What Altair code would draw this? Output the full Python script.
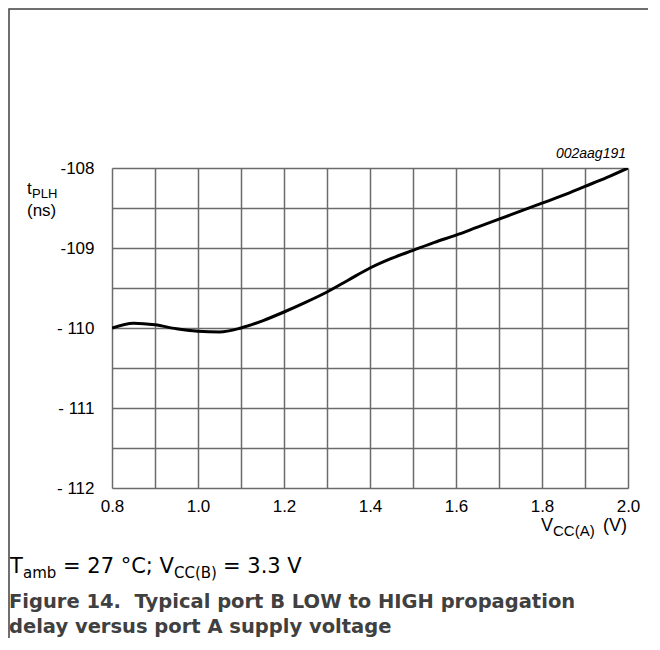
import altair as alt
import pandas as pd

# ---- data ----
vcc_a = [0.80, 0.85, 0.90, 0.95, 1.00, 1.05, 1.10, 1.15, 1.20, 1.25, 1.30, 1.35, 1.40,
         1.45, 1.50, 1.55, 1.60, 1.65, 1.70, 1.75, 1.80, 1.85, 1.90, 1.95, 2.00]
tplh = [-110.00, -109.94, -109.96, -110.01, -110.04, -110.05, -110.00, -109.91, -109.80,
        -109.68, -109.55, -109.40, -109.25, -109.13, -109.03, -108.93, -108.84, -108.74,
        -108.64, -108.54, -108.44, -108.34, -108.23, -108.12, -108.00]
x_ticks = [0.8, 0.9, 1.0, 1.1, 1.2, 1.3, 1.4, 1.5, 1.6, 1.7, 1.8, 1.9, 2.0]
y_ticks = [-112, -111.5, -111, -110.5, -110, -109.5, -109, -108.5, -108]

df = pd.DataFrame({"v": vcc_a, "t": tplh})

W, H = 516, 320
FONT = "Liberation Sans"
FONT2 = "DejaVu Sans"
GRID = "#6b6b6b"

x_axis = alt.Axis(values=x_ticks, grid=True, gridColor=GRID, gridWidth=1.5,
                  ticks=False, domain=False, title=None,
                  labelExpr="round(datum.value*10)%2==0 ? format(datum.value, '.1f') : ''",
                  labelFont=FONT, labelFontSize=17, labelColor="#000000",
                  labelPadding=10, labelFlush=False, labelOverlap=False)
y_axis = alt.Axis(values=y_ticks, grid=True, gridColor=GRID, gridWidth=1.5,
                  ticks=False, domain=False, title=None,
                  labelExpr="datum.value % 1 == 0 ? (datum.value > -109.5 ? '-' + format(-datum.value, 'd') : '- ' + format(-datum.value, 'd')) : ''",
                  labelFont=FONT, labelFontSize=17, labelColor="#000000",
                  labelPadding=18, labelOverlap=False)

line = alt.Chart(df).mark_line(color="#000000", strokeWidth=3, interpolate="monotone", clip=True).encode(
    x=alt.X("v:Q", scale=alt.Scale(domain=[0.8, 2.0], nice=False, zero=False), axis=x_axis),
    y=alt.Y("t:Q", scale=alt.Scale(domain=[-112, -108], nice=False, zero=False), axis=y_axis),
)

one = pd.DataFrame({"k": [0]})


def txt(s, x, y, size=17, weight="normal", style="normal", color="#000000", align="left", font=FONT):
    return alt.Chart(one).mark_text(
        text=s, font=font, fontSize=size, fontWeight=weight, fontStyle=style,
        color=color, align=align, baseline="alphabetic",
    ).encode(x=alt.value(x), y=alt.value(y))


ox, oy = 112, 168  # plot origin in page pixels


def P(x, y):
    return x - ox, y - oy


texts = []
# chart id
texts.append(txt("002aag191", *P(626, 158), size=14, style="italic", align="right"))
# y title tPLH (ns)
texts.append(txt("t", *P(27, 194), size=17))
texts.append(txt("PLH", *P(32, 198), size=13))
texts.append(txt("(ns)", *P(27, 216), size=17))
# x title VCC(A) (V)
texts.append(txt("V", *P(541, 531), size=18))
texts.append(txt("CC(A)", *P(553, 536), size=15))
texts.append(txt("(V)", *P(627, 531), size=18, align="right"))
# conditions line
texts.append(txt("T", *P(10, 573), size=21, font=FONT2))
texts.append(txt("amb", *P(23, 578), size=15, font=FONT2))
texts.append(txt("= 27 °C; V", *P(63, 573), size=21, font=FONT2))
texts.append(txt("CC(B)", *P(174, 578), size=15, font=FONT2))
texts.append(txt("= 3.3 V", *P(223, 573), size=21, font=FONT2))
# caption
texts.append(txt("Figure 14.\u00a0 Typical port B LOW to HIGH propagation", *P(9, 608), size=19.5,
                 weight="bold", color="#404040", font=FONT2))
texts.append(txt("delay versus port A supply voltage", *P(9, 633), size=19.5,
                 weight="bold", color="#404040", font=FONT2))

# page frame: only its top and left edges fall inside the drawing
frame = alt.Chart(one).mark_rect(fill=None, fillOpacity=0, stroke="#404040", strokeWidth=1.5).encode(
    x=alt.value(-ox + 9), x2=alt.value(720 - ox), y=alt.value(-oy + 9), y2=alt.value(720 - oy))

chart = alt.layer(line, *texts, frame).properties(
    width=W, height=H,
    autosize=alt.AutoSizeParams(type="none"),
    padding={"left": ox - 8, "top": oy - 8, "right": 648 - ox - W, "bottom": 638 - oy - H},
).configure_view(stroke=GRID, strokeWidth=1.5).configure(background="#ffffff")

chart.save("out.html", embed_options={"renderer": "svg", "actions": False})
